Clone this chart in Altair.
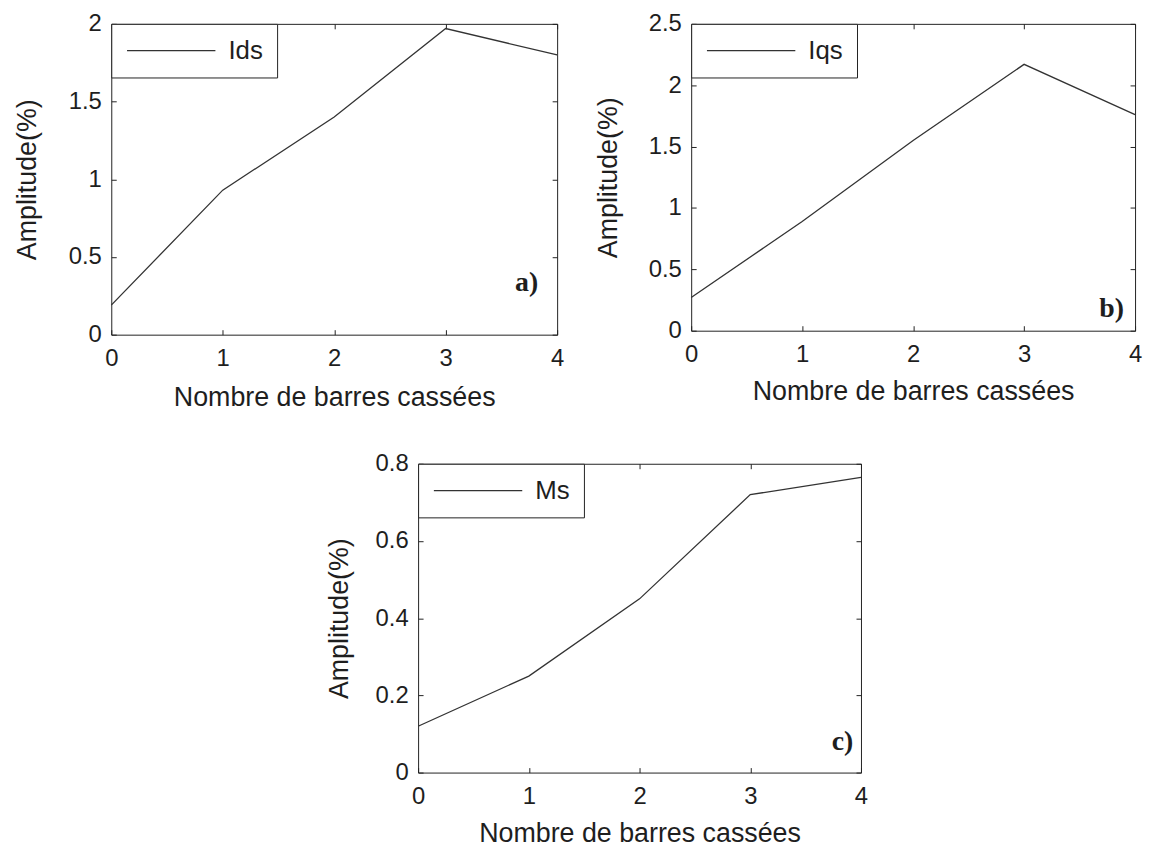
import altair as alt
import pandas as pd

# ---------------- data ----------------
broken_bars = [0, 1, 2, 3, 4]
ids_amp = [0.19, 0.93, 1.40, 1.97, 1.80]
iqs_amp = [0.27, 0.89, 1.55, 2.17, 1.76]
ms_amp = [0.12, 0.25, 0.45, 0.72, 0.765]

x_ticks = [0, 1, 2, 3, 4]
y_ticks_a = [0, 0.5, 1, 1.5, 2]
y_ticks_b = [0, 0.5, 1, 1.5, 2, 2.5]
y_ticks_c = [0, 0.2, 0.4, 0.6, 0.8]

x_title = "Nombre de barres cassées"
y_title = "Amplitude(%)"

FONT = "Liberation Sans"
SERIF = "Liberation Serif"
TEXT = "#1e1e1e"
FRAME = "#222222"
LINE = "#333333"


def panel(name, values, y_ticks, y_max, tag, tag_x, tag_y, w, h,
          y_title_pad, x_title_pad, y_label_pad):
    df = pd.DataFrame({"x": broken_bars, "y": values, "serie": [name] * len(values)})
    xs = alt.Scale(domain=[0, 4], nice=False, zero=False)
    ys = alt.Scale(domain=[0, y_max], nice=False, zero=False)
    base = alt.Chart(df)
    line = base.mark_line(strokeWidth=1.3).encode(
        x=alt.X("x:Q", scale=xs, title=x_title,
                axis=alt.Axis(values=x_ticks, orient="bottom", offset=-5, tickSize=5,
                              domain=False, grid=False, labelPadding=12, labelFlush=False,
                              format="~g", titlePadding=x_title_pad)),
        y=alt.Y("y:Q", scale=ys, title=y_title,
                axis=alt.Axis(values=y_ticks, orient="left", offset=-5, tickSize=5,
                              domain=False, grid=False, labelPadding=y_label_pad,
                              format="~g", titlePadding=y_title_pad)),
        color=alt.Color("serie:N", title=None,
                        scale=alt.Scale(domain=[name], range=[LINE]),
                        legend=alt.Legend(orient="top-left", offset=0, padding=14,
                                          strokeColor=FRAME, fillColor="white",
                                          symbolType="M-1,0H7", symbolSize=495,
                                          symbolStrokeWidth=1.3, labelFont=FONT,
                                          labelFontSize=26, labelColor=TEXT,
                                          labelOffset=78)),
    )
    frame = base.mark_line(opacity=0).encode(
        x=alt.X("x:Q", scale=xs, title=None,
                axis=alt.Axis(values=x_ticks, orient="top", offset=-5, tickSize=5,
                              domain=False, grid=False, labels=False)),
        y=alt.Y("y:Q", scale=ys, title=None,
                axis=alt.Axis(values=y_ticks, orient="right", offset=-5, tickSize=5,
                              domain=False, grid=False, labels=False)),
    )
    tag_df = pd.DataFrame({"x": [tag_x], "y": [tag_y], "t": [tag]})
    label = alt.Chart(tag_df).mark_text(
        align="right", baseline="middle", font=SERIF, fontWeight="bold",
        fontSize=28, color=TEXT,
    ).encode(
        x=alt.X("x:Q", scale=xs, axis=None),
        y=alt.Y("y:Q", scale=ys, axis=None),
        text="t:N",
    )
    return (
        alt.layer(line, frame, label)
        .resolve_axis(x="independent", y="independent")
        .properties(width=w, height=h)
    )


def spacer(w, h):
    return (
        alt.Chart(pd.DataFrame({"s": [0]}))
        .mark_point(opacity=0, size=1)
        .encode(x=alt.value(0), y=alt.value(0))
        .properties(width=w, height=h,
                    view=alt.ViewBackground(stroke="transparent", strokeOpacity=0))
    )


pa = panel("Ids", ids_amp, y_ticks_a, 2, "a)", 3.83, 0.33, 449, 313, 27, 14, 10)
pb = panel("Iqs", iqs_amp, y_ticks_b, 2.5, "b)", 3.90, 0.18, 447, 309, 26, 12, 10)
pc = panel("Ms", ms_amp, y_ticks_c, 0.8, "c)", 3.93, 0.08, 446, 311, 22, 12, 10)

row1 = alt.hconcat(pa, pb, spacing=29).resolve_scale(color="independent")
row2 = alt.hconcat(spacer(215, 10), pc, spacing=0).resolve_scale(color="independent")

chart = (
    alt.vconcat(row1, row2, spacing=40)
    .resolve_scale(color="independent")
    .properties(padding={"left": 5, "top": 0, "right": 0, "bottom": 0})
    .configure_view(stroke=FRAME, strokeWidth=1)
    .configure_axis(labelFont=FONT, labelFontSize=24, labelColor=TEXT,
                    titleFont=FONT, titleFontSize=27, titleFontWeight="normal",
                    titleColor=TEXT, tickColor=FRAME, tickWidth=1)
    .configure_legend(strokeWidth=1)
)

chart.save("out.html", embed_options={"renderer": "svg", "actions": False})
